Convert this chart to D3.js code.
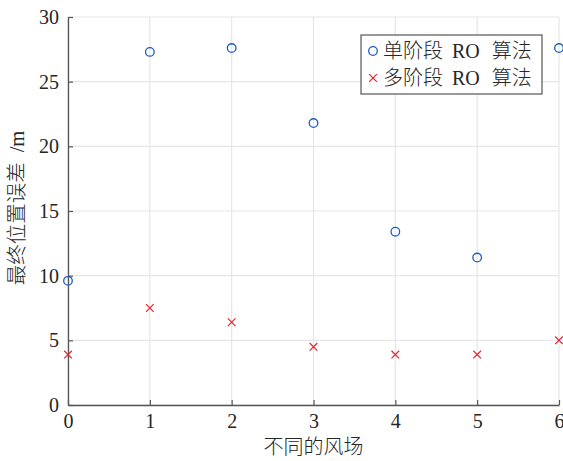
<!DOCTYPE html>
<html>
<head>
<meta charset="utf-8">
<script src="https://cdn.jsdelivr.net/npm/d3@7"></script>
<style>
body { margin: 0; background: #fff; }
text { font-family: "Liberation Serif", "Noto Sans CJK SC", serif; }
.cjk { font-family: "Noto Sans CJK SC", sans-serif; font-weight: 300; }
</style>
</head>
<body>
<div class="chart"></div>
<script>
const fields = [0, 1, 2, 3, 4, 5, 6]
const singleStage = [9.6, 27.3, 27.6, 21.8, 13.4, 11.4, 27.6]
const multiStage = [3.9, 7.5, 6.4, 4.5, 3.9, 3.9, 5.0]
const xTicks = [0, 1, 2, 3, 4, 5, 6]
const yTicks = [0, 5, 10, 15, 20, 25, 30]

const margin = {top: 17, right: 4, bottom: 56, left: 68}
const width = 563 - margin.left - margin.right
const height = 461 - margin.top - margin.bottom

const svg = d3.select(".chart").append("svg")
    .attr("width", 563)
    .attr("height", 461)
  .append("g")
    .attr("transform", `translate(${margin.left},${margin.top})`)

const x = d3.scaleLinear().domain([0, 6]).range([0, width])
const y = d3.scaleLinear().domain([0, 30]).range([height, 0])

// grid
svg.append("g").selectAll("line").data(xTicks).join("line")
    .attr("x1", d => x(d)).attr("x2", d => x(d))
    .attr("y1", 0).attr("y2", height)
    .attr("stroke", "#e6e6e6").attr("stroke-width", 1.2)
svg.append("g").selectAll("line").data(yTicks).join("line")
    .attr("x1", 0).attr("x2", width)
    .attr("y1", d => y(d)).attr("y2", d => y(d))
    .attr("stroke", "#e6e6e6").attr("stroke-width", 1.2)

const xAxis = svg.append("g")
    .attr("transform", `translate(0,${height})`)
    .call(d3.axisBottom(x).tickValues(xTicks).tickFormat(d3.format("d"))
        .tickSizeInner(-5).tickSizeOuter(0).tickPadding(9))
const yAxis = svg.append("g")
    .call(d3.axisLeft(y).tickValues(yTicks).tickFormat(d3.format("d"))
        .tickSizeInner(-5).tickSizeOuter(0).tickPadding(9))

for (const g of [xAxis, yAxis]) {
    g.select(".domain").attr("stroke", "#555").attr("stroke-width", 1.3)
    g.selectAll(".tick line").attr("stroke", "#555").attr("stroke-width", 1.2)
    g.selectAll(".tick text").attr("fill", "#262626").style("font-size", "20px")
        .style("font-family", "Liberation Serif, serif")
}
xAxis.selectAll(".tick text").attr("dy", "0.71em")

// markers
svg.append("g").selectAll("circle").data(fields).join("circle")
    .attr("cx", d => x(d))
    .attr("cy", (d, i) => y(singleStage[i]))
    .attr("r", 4.3)
    .attr("fill", "none")
    .attr("stroke", "#1f5bbf")
    .attr("stroke-width", 1.3)

const cross = d3.symbol().type(d3.symbolTimes).size(40)
svg.append("g").selectAll("path").data(fields).join("path")
    .attr("transform", (d, i) => `translate(${x(d)},${y(multiStage[i])})`)
    .attr("d", cross)
    .attr("fill", "none")
    .attr("stroke", "#e8232a")
    .attr("stroke-width", 1.2)

// axis labels
svg.append("text")
    .attr("class", "cjk")
    .attr("x", width / 2)
    .attr("y", height + 49)
    .attr("text-anchor", "middle")
    .attr("fill", "#262626")
    .style("font-size", "20px")
    .text("不同的风场")

svg.append("text")
    .attr("transform", `translate(${-44},${height / 2 - 3}) rotate(-90)`)
    .attr("text-anchor", "middle")
    .attr("fill", "#262626")
    .style("font-size", "20.5px")
    .call(t => {
        t.append("tspan").attr("class", "cjk").text("最终位置误差")
        t.append("tspan").attr("dx", 10).text("/m")
    })

// legend
const legend = svg.append("g").attr("transform", `translate(${361 - margin.left},${35 - margin.top})`)
legend.append("rect")
    .attr("width", 181).attr("height", 59)
    .attr("fill", "#fff").attr("stroke", "#555").attr("stroke-width", 1.2)
const items = [
    {name: "单阶段", type: "circle"},
    {name: "多阶段", type: "cross"}
]
items.forEach((it, i) => {
    const ly = 16 + i * 27
    if (it.type === "circle") {
        legend.append("circle").attr("cx", 12).attr("cy", ly).attr("r", 4.3)
            .attr("fill", "none").attr("stroke", "#1f5bbf").attr("stroke-width", 1.3)
    } else {
        legend.append("path").attr("transform", `translate(12,${ly})`).attr("d", cross)
            .attr("fill", "none").attr("stroke", "#e8232a").attr("stroke-width", 1.2)
    }
    const t = legend.append("text").attr("x", 22).attr("y", ly).attr("dy", "0.35em")
        .attr("fill", "#262626").style("font-size", "20px")
    t.append("tspan").attr("class", "cjk").text(it.name)
    t.append("tspan").attr("dx", 9).text("RO")
    t.append("tspan").attr("class", "cjk").attr("dx", 12).text("算法")
})
</script>
</body>
</html>
